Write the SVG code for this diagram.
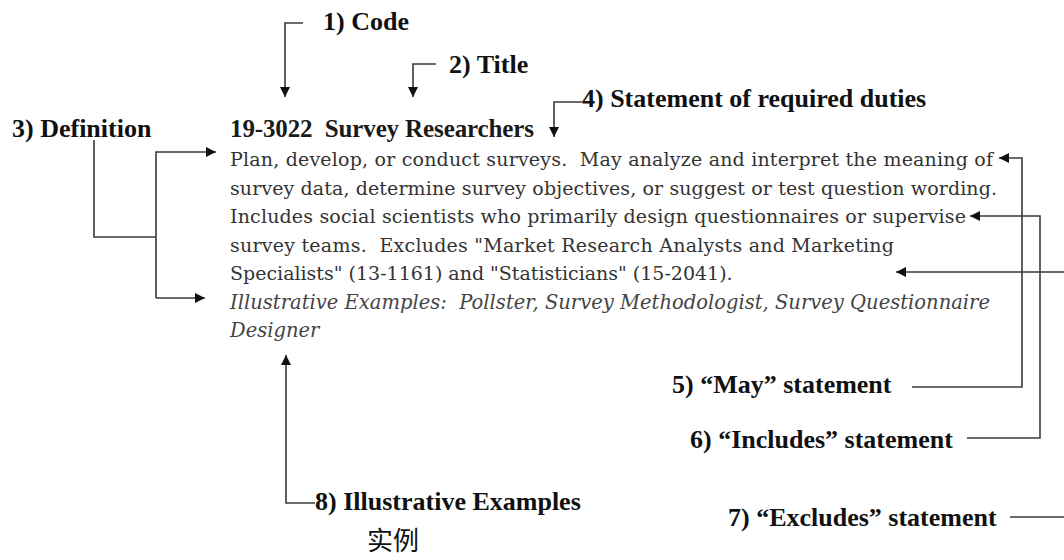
<svg xmlns="http://www.w3.org/2000/svg" width="1064" height="560" viewBox="0 0 1064 560">
  <style>
    .lbl { font-family: "Liberation Serif", "Times New Roman", serif; font-weight: bold; font-size: 26px; fill: #111; white-space: pre; }
    .hdr { font-family: "Liberation Serif", "Times New Roman", serif; font-weight: bold; font-size: 25px; fill: #1a1a1a; white-space: pre; }
    .body { font-family: "DejaVu Serif", "Liberation Serif", serif; font-size: 19px; fill: #333; white-space: pre; }
    .ital { font-family: "DejaVu Serif", "Liberation Serif", serif; font-style: italic; font-size: 19.5px; fill: #444; white-space: pre; }
    .cjk { font-family: "Noto Sans CJK SC", "Noto Sans", sans-serif; font-size: 26px; fill: #111; }
    .conn { fill: none; stroke: #3a3a3a; stroke-width: 1.6; }
  </style>
  <defs>
    <marker id="arrow" viewBox="0 0 10 10" refX="10" refY="5" markerWidth="10" markerHeight="10" markerUnits="userSpaceOnUse" orient="auto">
      <path d="M0,0 L10,5 L0,10 z" fill="#111"/>
    </marker>
  </defs>
  <rect width="1064" height="560" fill="#fff"/>

  <!-- occupation entry -->
  <g id="entry">
    <text class="hdr" x="230" y="137" textLength="304">19-3022  Survey Researchers</text>
    <text class="body" x="230" y="166" textLength="763">Plan, develop, or conduct surveys.  May analyze and interpret the meaning of</text>
    <text class="body" x="230" y="194.5" textLength="767">survey data, determine survey objectives, or suggest or test question wording.</text>
    <text class="body" x="230" y="223" textLength="736">Includes social scientists who primarily design questionnaires or supervise</text>
    <text class="body" x="230" y="251.5" textLength="664">survey teams.  Excludes "Market Research Analysts and Marketing</text>
    <text class="body" x="230" y="280">Specialists" (13-1161) and "Statisticians" (15-2041).</text>
    <text class="ital" x="230" y="308.5" textLength="760">Illustrative Examples:  Pollster, Survey Methodologist, Survey Questionnaire</text>
    <text class="ital" x="230" y="337">Designer</text>
  </g>

  <!-- callout labels -->
  <g id="label-code"><text class="lbl" x="323" y="30">1) Code</text></g>
  <g id="label-title"><text class="lbl" x="449" y="73">2) Title</text></g>
  <g id="label-definition"><text class="lbl" x="12" y="137">3) Definition</text></g>
  <g id="label-duties"><text class="lbl" x="582" y="107">4) Statement of required duties</text></g>
  <g id="label-may"><text class="lbl" x="672" y="393">5) “May” statement</text></g>
  <g id="label-includes"><text class="lbl" x="690" y="448">6) “Includes” statement</text></g>
  <g id="label-excludes"><text class="lbl" x="728" y="526">7) “Excludes” statement</text></g>
  <g id="label-examples"><text class="lbl" x="315" y="510">8) Illustrative Examples</text></g>
  <g id="caption"><text class="cjk" x="367" y="550">实例</text></g>

  <!-- connectors -->
  <g id="connectors">
    <path class="conn" d="M303,23 H285 V97" marker-end="url(#arrow)"/>
    <path class="conn" d="M436,64 H413 V97" marker-end="url(#arrow)"/>
    <path class="conn" d="M582,102 H554 V137" marker-end="url(#arrow)"/>
    <path class="conn" d="M94,140 V237 H156"/>
    <path class="conn" d="M156,298 V152 H216" marker-end="url(#arrow)"/>
    <path class="conn" d="M156,298 H205" marker-end="url(#arrow)"/>
    <path class="conn" d="M912,387 H1022 V158 H999" marker-end="url(#arrow)"/>
    <path class="conn" d="M967,438 H1040 V216 H970" marker-end="url(#arrow)"/>
    <path class="conn" d="M1010,517 H1070 M1070,272 H896" marker-end="url(#arrow)"/>
    <path class="conn" d="M315,503 H286 V355" marker-end="url(#arrow)"/>
  </g>
</svg>
